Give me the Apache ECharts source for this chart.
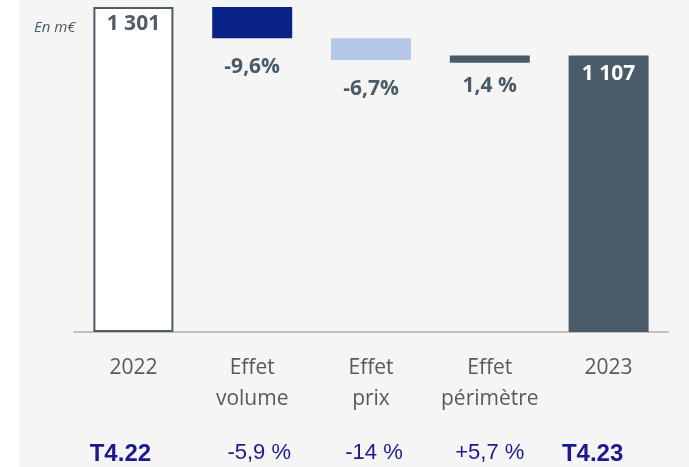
<!DOCTYPE html>
<html><head><meta charset="utf-8">
<script src="https://cdn.jsdelivr.net/npm/echarts@6/dist/echarts.min.js"></script>
<style>html,body{margin:0;padding:0;background:#fff}#c{width:689px;height:467px}</style>
</head><body><div id="c"></div>
<script>
const categories = ['2022', 'Effet\nvolume', 'Effet\nprix', 'Effet\npérimètre', '2023'];
const baseValues = [0, 1176, 1089, 1078, 0];
const barValues = [1301, 125, 87, 29, 1107];
const barLabels = ['1 301', '-9,6%', '-6,7%', '1,4 %', '1 107'];
const bottomLabels = ['T4.22', '-5,9 %', '-14 %', '+5,7 %', 'T4.23'];

const barColors = ['#ffffff', '#0a2387', '#b4c7e7', '#4a5a68', '#4a5a68'];
const labelPos = ['insideTop', 'bottom', 'bottom', 'bottom', 'insideTop'];
const labelDist = [7, 18, 19, 13, 8];
const labelColor = ['#505c66', '#4a5a68', '#4a5a68', '#4a5a68', '#ffffff'];
const bottomPad = [[0, 26, 0, 0], [0, 0, 0, 14], [0, 0, 0, 6], [0, 0, 0, 0], [0, 32, 0, 0]];

const chart = echarts.init(document.getElementById('c'));
chart.setOption({
  animation: false,
  backgroundColor: '#fff',
  graphic: [{ type: 'rect', left: 19, top: 0, shape: { width: 670, height: 467 }, style: { fill: '#f5f5f5' }, z: -10 }],
  title: { text: 'En m€', left: 29, top: 15, textStyle: { fontFamily: 'Open Sans', fontStyle: 'italic', fontWeight: 'normal', fontSize: 15, color: '#4a5a68' } },
  grid: { left: 74, right: 21, top: 7, bottom: 135 },
  xAxis: [{
    type: 'category', data: categories,
    axisLine: { lineStyle: { color: '#bfbfbf', width: 2 } },
    axisTick: { show: false },
    axisLabel: { fontFamily: 'Open Sans', fontSize: 21, color: '#595959', lineHeight: 31, margin: 21, interval: 0 }
  }, {
    type: 'category', data: bottomLabels.map((v, i) => {
      const bold = (i === 0 || i === 4);
      return {
        value: v,
        textStyle: bold
          ? { fontWeight: 'bold', fontFamily: '"Liberation Sans Narrow", "Liberation Sans", sans-serif', fontSize: 24, padding: bottomPad[i] }
          : { fontWeight: 'normal', fontFamily: '"Liberation Sans", Arial, sans-serif', fontSize: 22, padding: bottomPad[i] }
      };
    }),
    position: 'bottom', offset: 0,
    axisLine: { show: false }, axisTick: { show: false },
    axisLabel: { color: '#1a1a8e', margin: 110, interval: 0 }
  }],
  yAxis: { type: 'value', min: 0, max: 1301, show: false, splitLine: { show: false } },
  series: [{
    type: 'bar', stack: 'w', data: baseValues, barWidth: 80,
    itemStyle: { color: 'transparent' }, silent: true
  }, {
    type: 'bar', stack: 'w', barWidth: 80,
    data: barValues.map((v, i) => ({
      value: v,
      itemStyle: i === 0 ? { color: '#ffffff', borderColor: '#4d5b67', borderWidth: 2 } : { color: barColors[i] },
      label: {
        show: true, formatter: barLabels[i], position: labelPos[i], distance: labelDist[i],
        color: labelColor[i], fontFamily: 'Open Sans', fontWeight: 'bold', fontSize: 21
      }
    }))
  }]
});
</script></body></html>
